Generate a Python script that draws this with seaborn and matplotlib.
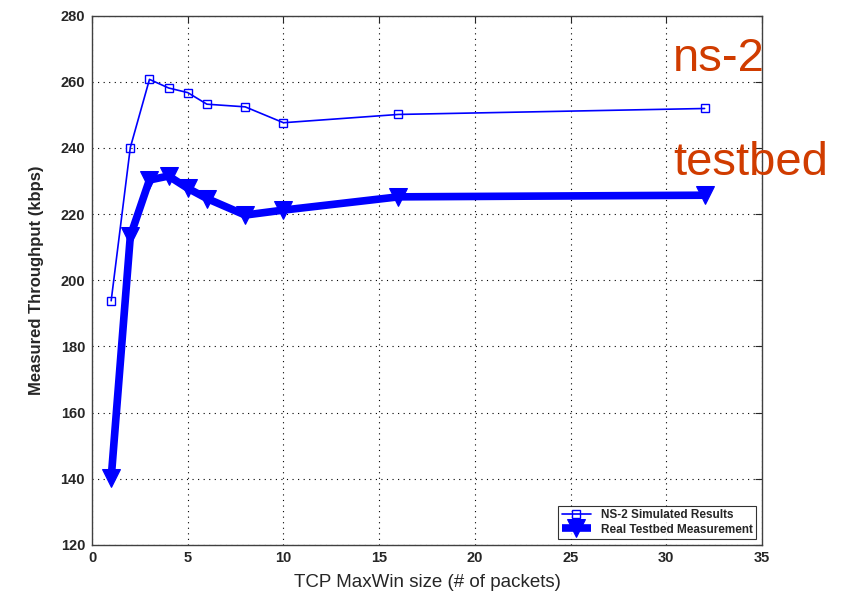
import numpy as np
import pandas as pd
import matplotlib
matplotlib.use("Agg")
import matplotlib.pyplot as plt
import seaborn as sns

# Valores
maxwin = [1, 2, 3, 4, 5, 6, 8, 10, 16, 32]
ns2_kbps = [193.8, 240.1, 260.7, 258.1, 256.7, 253.2, 252.4, 247.6, 250.1, 251.9]
testbed_kbps = [140.2, 213.3, 230.3, 231.5, 227.8, 224.7, 219.7, 221.2, 225.2, 225.7]
xticks = [0, 5, 10, 15, 20, 25, 30, 35]
yticks = [120, 140, 160, 180, 200, 220, 240, 260, 280]

sns.set_style("white")
plt.rcParams["font.family"] = ["Liberation Sans", "DejaVu Sans"]

df = pd.DataFrame({
    "maxwin": maxwin * 2,
    "kbps": ns2_kbps + testbed_kbps,
    "serie": ["NS-2 Simulated Results"] * len(maxwin) + ["Real Testbed Measurement"] * len(maxwin),
})

fig = plt.figure(figsize=(8.42, 6.01), dpi=100)
ax = fig.add_axes([0.1093, 0.0932, 0.7957, 0.8810])

blue = "#0000FF"
sns.lineplot(data=df[df.serie == "NS-2 Simulated Results"], x="maxwin", y="kbps",
             ax=ax, color=blue, lw=1.2, marker="s", ms=6, mfc="none", mec=blue,
             mew=1.0, label="NS-2 Simulated Results")
sns.lineplot(data=df[df.serie == "Real Testbed Measurement"], x="maxwin", y="kbps",
             ax=ax, color=blue, lw=5.5, marker="v", ms=13, mfc=blue, mec=blue,
             solid_capstyle="butt", label="Real Testbed Measurement")

ax.set_xlim(0, 35)
ax.set_ylim(120, 280)
ax.set_xticks(xticks)
ax.set_yticks(yticks)
ax.tick_params(direction="in", top=True, right=True, length=5, width=0.8,
               labelsize=10.5)
ax.tick_params(axis="x", pad=4)
ax.tick_params(axis="y", pad=5)
for lab in ax.get_xticklabels() + ax.get_yticklabels():
    lab.set_fontweight("bold")
ax.grid(True, color="black", linestyle=(0, (1, 4)), lw=0.8)
for sp in ax.spines.values():
    sp.set_color("#404040")
    sp.set_linewidth(1.0)

ax.set_xlabel("TCP MaxWin size (# of packets)", fontsize=13.5, labelpad=7)
ax.set_ylabel("Measured Throughput (kbps)", fontsize=12, fontweight="bold", labelpad=12)

leg = ax.legend(loc="lower right", fontsize=8.5, frameon=True, fancybox=False,
                borderpad=0.3, handlelength=2.5, labelspacing=0.2,
                borderaxespad=0.5)
leg.get_frame().set_edgecolor("black")
leg.get_frame().set_linewidth(0.8)
for t in leg.get_texts():
    t.set_fontweight("bold")

orange = "#D03C00"
fig.text(673 / 842, 1 - 71 / 601, "ns-2", color=orange, fontsize=34)
fig.text(673 / 842, 1 - 175 / 601, "testbed", color=orange, fontsize=34)

fig.savefig("out.png", dpi=100)
